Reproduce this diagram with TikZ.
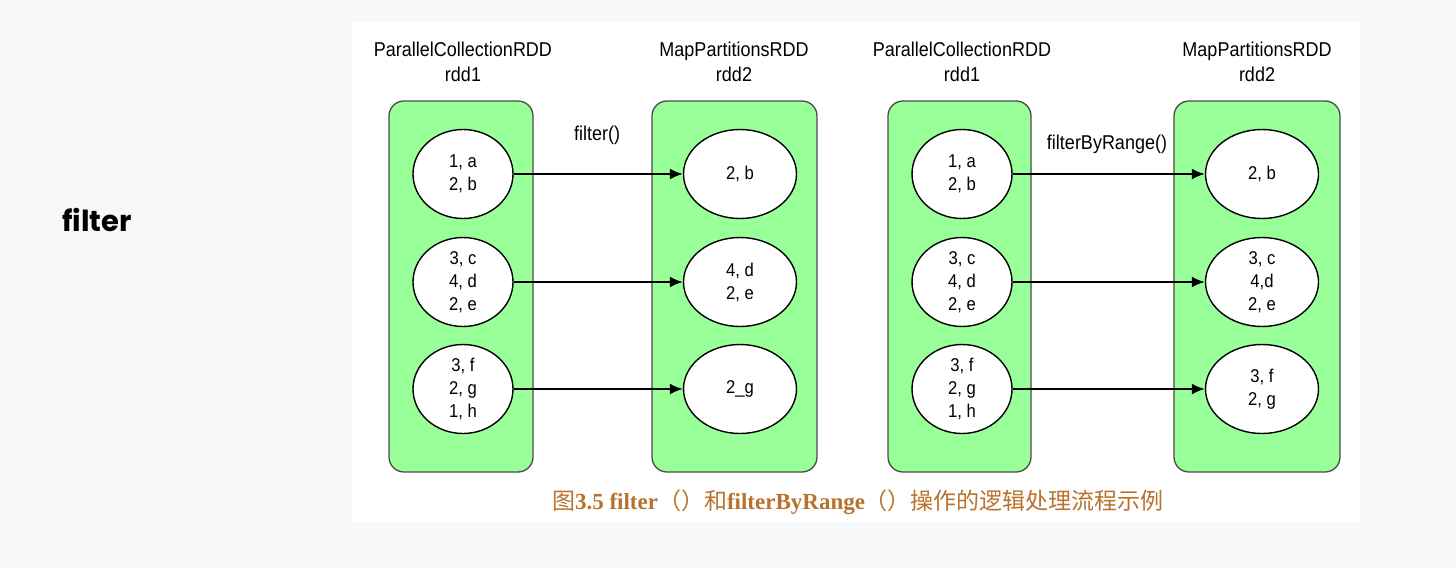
\documentclass[tikz,border=0pt]{standalone}
\usepackage{fontspec}
\setmainfont{Liberation Sans}
\newfontfamily\narrowfont{Liberation Sans}[FakeStretch=0.9]
\newfontfamily\capfont{Liberation Serif}
\newfontfamily\cjk{Noto Sans CJK SC}
\newfontfamily\sidefont{Poppins}
\usepackage{xcolor}
\usepackage{tikz}
\usetikzlibrary{arrows.meta}
\usetikzlibrary{shapes.geometric}
\definecolor{pagegrey}{HTML}{F7F8FA}
\definecolor{partgreen}{HTML}{99FF99}
\definecolor{boxedge}{HTML}{4A4A4A}
\definecolor{captionbrown}{RGB}{184,114,44}
\tikzset{
  rddbox/.style={draw=boxedge, fill=partgreen, line width=1.3pt, rounded corners=15pt},
  part/.style={ellipse, draw=black, fill=white, line width=1.4pt, inner sep=0pt,
    minimum width=100pt, minimum height=89pt, align=center,
    font=\narrowfont\fontsize{18.5}{23}\selectfont},
  outpart/.style={part, minimum width=113pt},
  rddtitle/.style={align=center, font=\narrowfont\fontsize{20}{25}\selectfont},
  oplabel/.style={font=\narrowfont\fontsize{20}{22}\selectfont},
  flow/.style={line width=1.8pt, arrows = {-Latex[length=13pt, width=11pt]}},
}

\begin{document}
\begin{tikzpicture}[x=1pt, y=-1pt]
\useasboundingbox (0,0) rectangle (1456,568);
\fill[color=pagegrey] (0,0) rectangle (1456,568);
\fill[color=white] (352,22) rectangle (1360,522);
\node[font=\sidefont\bfseries\fontsize{29}{32}\selectfont] (side) at (97,220) {filter};
% the four RDD boxes
\draw[rddbox] (389,101) rectangle (533,472);
\draw[rddbox] (652,101) rectangle (817,472);
\draw[rddbox] (888,101) rectangle (1031,472);
\draw[rddbox] (1174,101) rectangle (1340,472);
\node[rddtitle] (t1) at (463,62) {ParallelCollectionRDD\\rdd1};
\node[rddtitle] (t2) at (734,62) {MapPartitionsRDD\\rdd2};
\node[rddtitle] (t3) at (962,62) {ParallelCollectionRDD\\rdd1};
\node[rddtitle] (t4) at (1257,62) {MapPartitionsRDD\\rdd2};
% filter()
\node[part] (a1) at (463,174) {1, a\\2, b};
\node[part] (a2) at (463,282) {3, c\\4, d\\2, e};
\node[part] (a3) at (463,389) {3, f\\2, g\\1, h};
\node[outpart] (b1) at (740,174) {2, b};
\node[outpart] (b2) at (740,282) {4, d\\2, e};
\node[outpart] (b3) at (740,389) {2\_g};
\node[oplabel] (op1) at (597,135) {filter()};
% filterByRange()
\node[part] (c1) at (962,174) {1, a\\2, b};
\node[part] (c2) at (962,282) {3, c\\4, d\\2, e};
\node[part] (c3) at (962,389) {3, f\\2, g\\1, h};
\node[outpart] (d1) at (1262,174) {2, b};
\node[outpart] (d2) at (1262,282) {3, c\\4,d\\2, e};
\node[outpart] (d3) at (1262,389) {3, f\\2, g};
\node[oplabel] (op2) at (1107,144) {filterByRange()};
\draw [flow] (a1) -- (b1);
\draw [flow] (a2) -- (b2);
\draw [flow] (a3) -- (b3);
\draw [flow] (c1) -- (d1);
\draw [flow] (c2) -- (d2);
\draw [flow] (c3) -- (d3);
\node[text=captionbrown, font=\capfont\bfseries\fontsize{23}{26}\selectfont] (cap) at (858,502)
  {{\cjk\mdseries 图}3.5 filter{\cjk\mdseries （）和}filterByRange{\cjk\mdseries （）操作的逻辑处理流程示例}};
\end{tikzpicture}
\end{document}
